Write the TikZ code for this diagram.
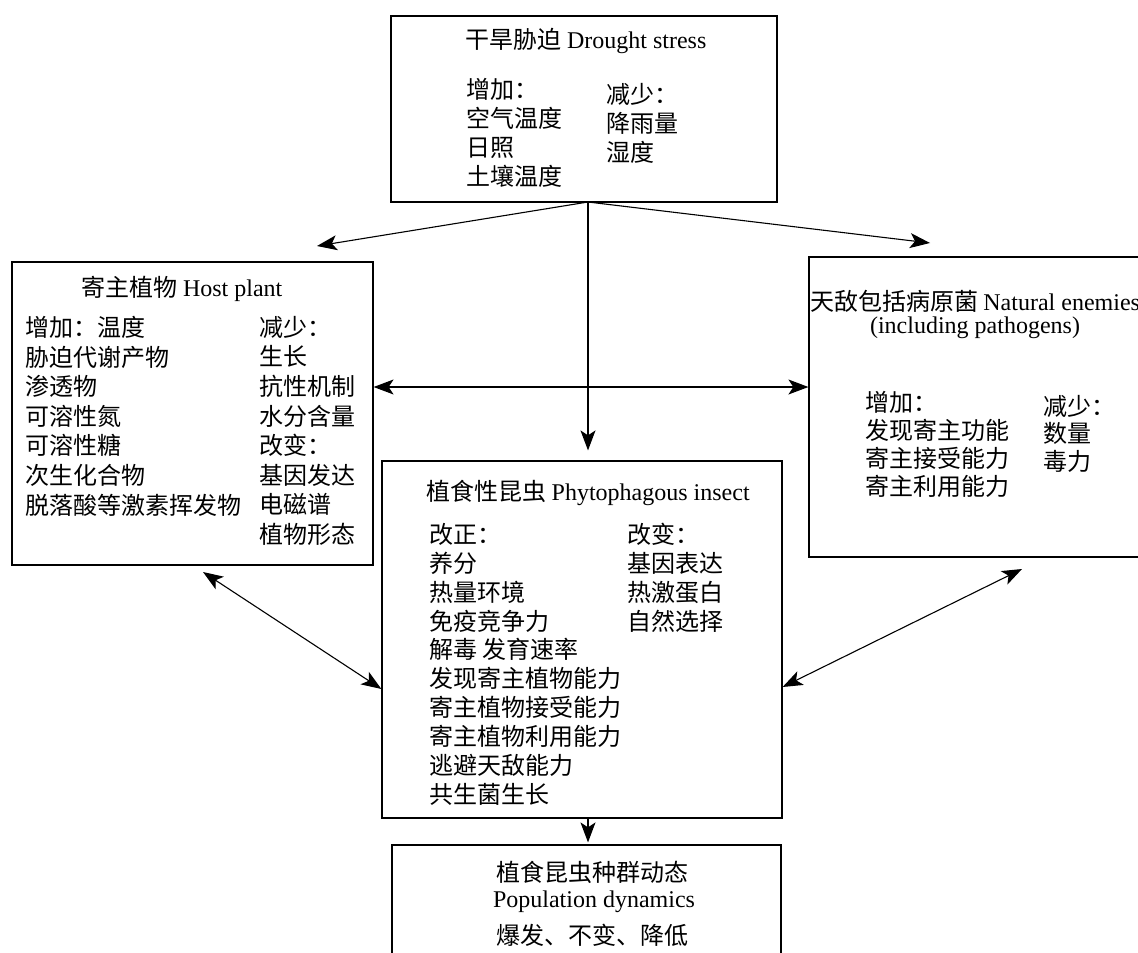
\documentclass[tikz,border=0pt]{standalone}
\usepackage{fontspec}
\setmainfont{Noto Sans CJK SC}
\newfontfamily\en{Liberation Serif}
\usetikzlibrary{arrows.meta}

\begin{document}
\begin{tikzpicture}[
	x=1pt, y=-1pt,
	every node/.style={inner sep=0pt, font=\fontsize{24}{29}\selectfont},
	box/.style={draw, line width=1.2pt}, % frame round each group
	col/.style={align=left, anchor=north west, font=\fontsize{24}{#1}\selectfont},
	col/.default=29,
	ttl/.style={anchor=base},
	link/.style={line width=1.1pt},
	>={Stealth[length=20pt,width=15pt,inset=5pt]}
	]
	\path[use as bounding box, clip] (0,0) rectangle (1138,953);
	
	% Frames
	\node[box, minimum width=386pt, minimum height=186pt] (drought) at (584,109) {};
	\node[box, minimum width=361pt, minimum height=303pt] (host) at (192.5,413.5) {};
	\node[box, minimum width=332pt, minimum height=300pt] (enemies) at (975,407) {};
	\node[box, minimum width=400pt, minimum height=357pt] (insect) at (582,639.5) {};
	\node[box, minimum width=389pt, minimum height=120pt] (popdyn) at (586.5,905) {};
	
	% Drought stress
	\node[ttl] (droughtTitle) at (586,48) {干旱胁迫 {\en Drought stress}};
	\node[col] (droughtUp) at (466,78) {增加：\\空气温度\\日照\\土壤温度};
	\node[col] (droughtDown) at (606,83) {减少：\\降雨量\\湿度};
	
	% Host plant
	\node[ttl] (hostTitle) at (182,296) {寄主植物 {\en Host plant}};
	\node[col=29.6] (hostUp) at (25,316) {增加：温度\\胁迫代谢产物\\渗透物\\可溶性氮\\可溶性糖\\次生化合物\\脱落酸等激素挥发物};
	\node[col=29.6] (hostDown) at (259,316) {减少：\\生长\\抗性机制\\水分含量\\改变：\\基因发达\\电磁谱\\植物形态};
	
	% Natural enemies
	\node[ttl] (enemiesTitle) at (975,310) {天敌包括病原菌 {\en Natural enemies}};
	\node[ttl] (enemiesSub) at (975,333) {\en (including pathogens)};
	\node[col=28] (enemiesUp) at (865,391) {增加：\\发现寄主功能\\寄主接受能力\\寄主利用能力};
	\node[col=27.5] (enemiesDown) at (1043,395) {减少：\\数量\\毒力};
	
	% Phytophagous insect
	\node[ttl] (insectTitle) at (588,500) {植食性昆虫 {\en Phytophagous insect}};
	\node[col=28.9] (insectUp) at (429,523) {改正：\\养分\\热量环境\\免疫竞争力\\解毒 发育速率\\发现寄主植物能力\\寄主植物接受能力\\寄主植物利用能力\\逃避天敌能力\\共生菌生长};
	\node[col=28.9] (insectChange) at (627,523) {改变：\\基因表达\\热激蛋白\\自然选择};
	
	% Population dynamics
	\node[ttl] (popTitle) at (592,881) {植食昆虫种群动态};
	\node[ttl] (popSub) at (594,907) {\en Population dynamics};
	\node[ttl] (popTrend) at (592,944) {爆发、不变、降低};
	
	% Connectors
	\coordinate (fork) at (588,202);
	\coordinate (toHost) at (317,246);
	\coordinate (toEnemies) at (930,243);
	\coordinate (hostLow) at (203,572);
	\coordinate (enemiesLow) at (1022,569);
	\draw[link, ->] (fork) -- (toHost);
	\draw[link, ->] (fork) -- (toEnemies);
	\draw[link, ->, shorten >=10pt] (fork) -- (insect.north -| fork);
	\draw[link, <->] (host.east |- 0,387) -- (enemies.west |- 0,387);
	\draw[link, <->] (hostLow) -- (insect.west |- 0,689);
	\draw[link, <->] (enemiesLow) -- (insect.east |- 0,687);
	\draw[link, ->, shorten >=2pt] (insect.south -| fork) -- (popdyn.north -| fork);
	
\end{tikzpicture}
\end{document}
